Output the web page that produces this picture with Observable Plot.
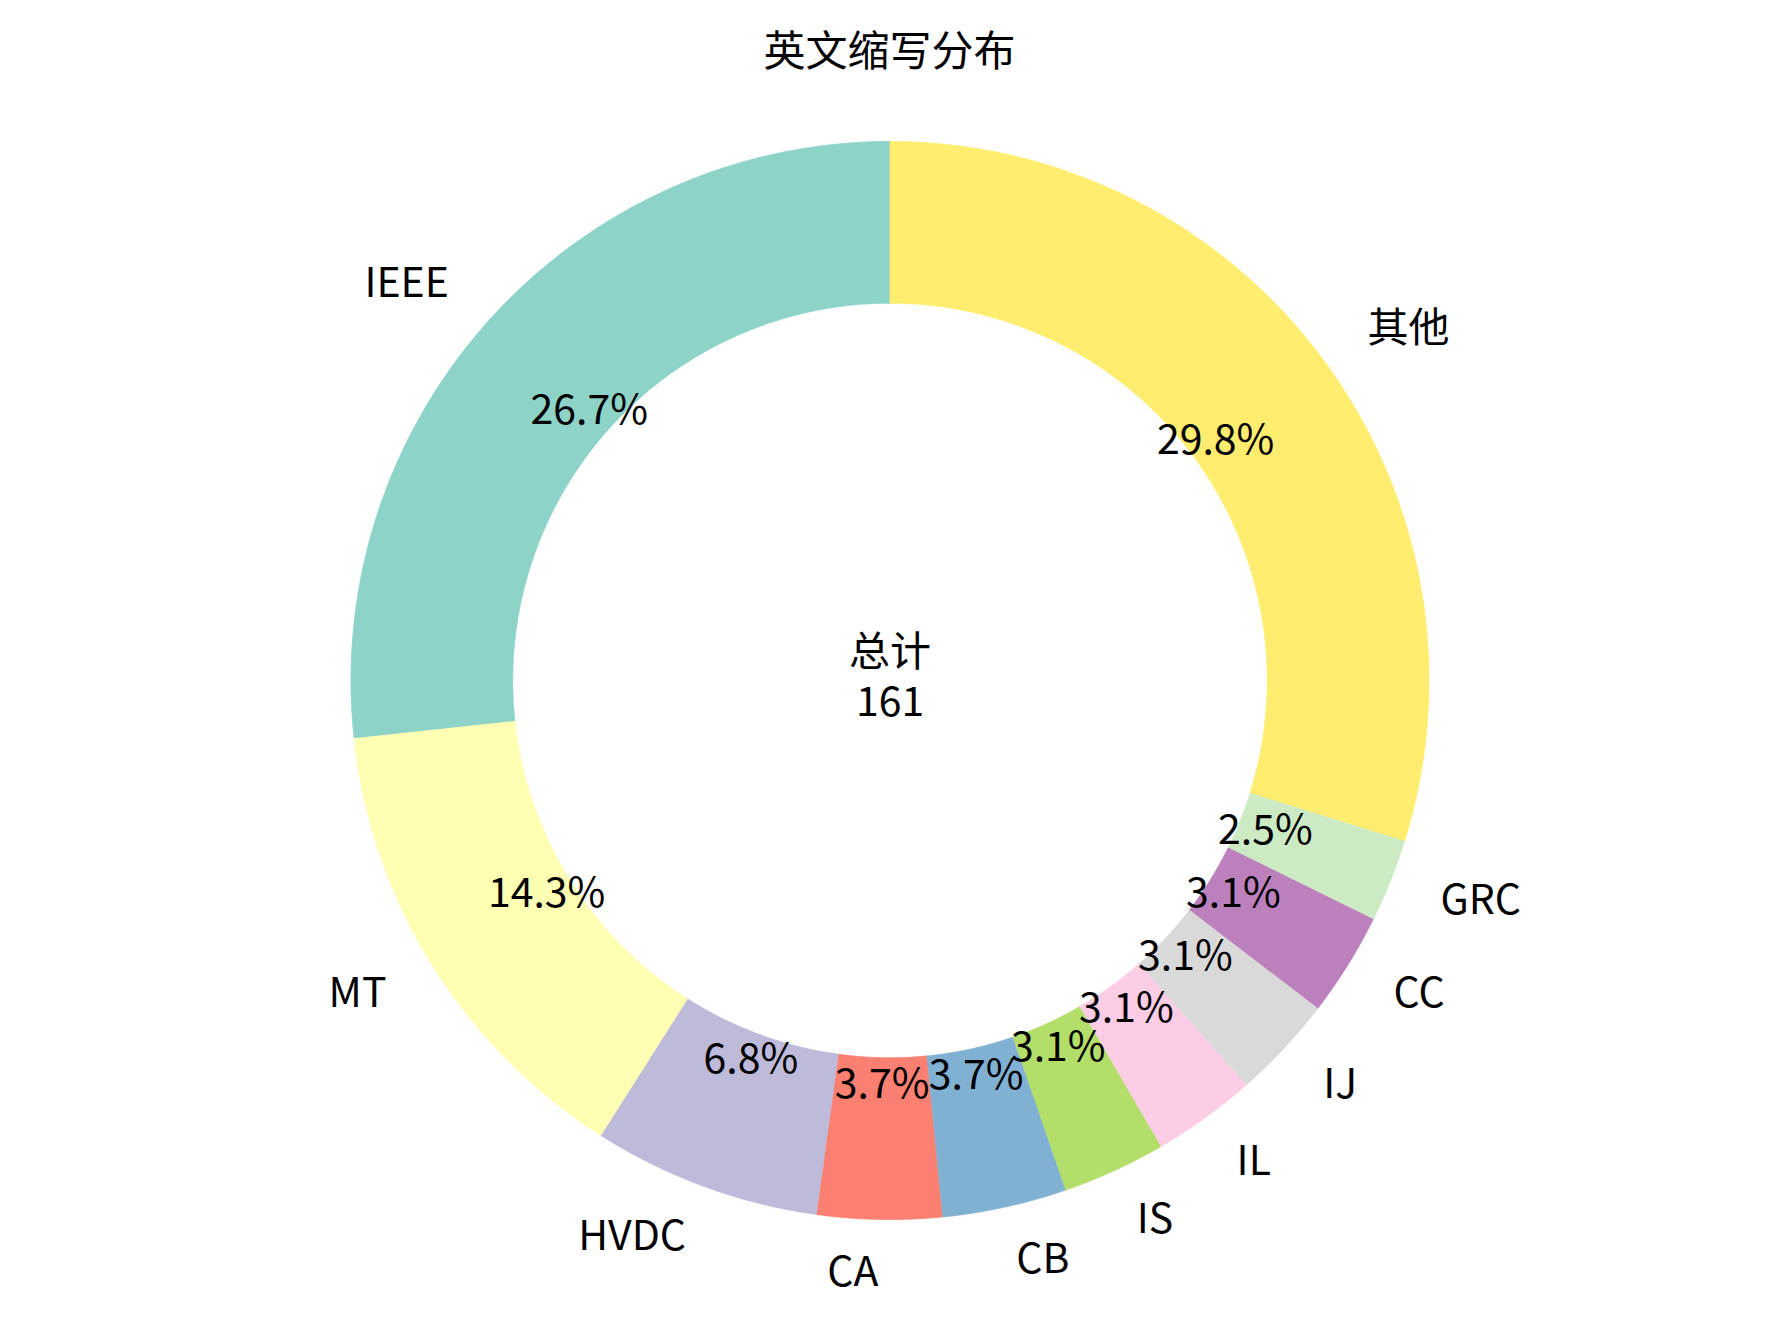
<!DOCTYPE html>
<html>
<head>
<meta charset="utf-8">
<script src="https://cdn.jsdelivr.net/npm/d3@7"></script>
<script src="https://cdn.jsdelivr.net/npm/@observablehq/plot@0.6"></script>
<style>
  html, body { margin: 0; padding: 0; background: #fff; }
  #wrap { width: 1779px; height: 1323px; position: relative; font-family: "Noto Sans CJK SC", "Noto Sans", sans-serif; }
  #title { position: absolute; left: 0; top: 0; width: 1779px; height: 96px; line-height: 96px; text-align: center; font-size: 42px; color: #000; }
  #chart { position: absolute; left: 0; top: 96px; }
</style>
</head>
<body>
<div id="wrap">
  <div id="title">英文缩写分布</div>
  <div id="chart"></div>
</div>
<script>
// ---- data ----
const labels = ["IEEE", "MT", "HVDC", "CA", "CB", "IS", "IL", "IJ", "CC", "GRC", "其他"];
const counts = [43, 23, 11, 6, 6, 5, 5, 5, 5, 4, 48];
const colors = ["#8dd3c7", "#ffffb3", "#bebada", "#fb8072", "#80b1d3", "#b3de69", "#fccde5", "#d9d9d9", "#bc80bd", "#ccebc5", "#ffed6f"];
const centerTitle = "总计";

// ---- layout ----
const W = 1779, H = 1227;
const R = 539;          // outer radius in px
const cx = 889.5, cy = 584;
const inner = 0.7, pctDist = 0.75, labelDist = 1.1;
const FS = 41;

const total = d3.sum(counts);
let cum = 0;
const slices = labels.map((name, i) => {
  const a0 = 90 + cum / total * 360;
  cum += counts[i];
  const a1 = 90 + cum / total * 360;
  return {name, value: counts[i], a0, a1, mid: (a0 + a1) / 2};
});
const rad = a => a * Math.PI / 180;

const poly = [];
for (const s of slices) {
  const n = Math.max(4, Math.ceil((s.a1 - s.a0) / 0.5));
  for (let k = 0; k <= n; k++) {
    const a = rad(s.a0 + (s.a1 - s.a0) * k / n);
    poly.push({name: s.name, x: Math.cos(a), y: Math.sin(a)});
  }
  for (let k = n; k >= 0; k--) {
    const a = rad(s.a0 + (s.a1 - s.a0) * k / n);
    poly.push({name: s.name, x: inner * Math.cos(a), y: inner * Math.sin(a)});
  }
}

const pcts = slices.map(s => ({
  text: (s.value / total * 100).toFixed(1) + "%",
  x: pctDist * Math.cos(rad(s.mid)),
  y: pctDist * Math.sin(rad(s.mid))
}));
const labs = slices.map(s => ({
  text: s.name,
  x: labelDist * Math.cos(rad(s.mid)),
  y: labelDist * Math.sin(rad(s.mid))
}));

const chart = Plot.plot({
  width: W,
  height: H,
  margin: 0,
  x: {domain: [-cx / R, (W - cx) / R], axis: null},
  y: {domain: [-(H - cy) / R, cy / R], axis: null},
  color: {domain: labels, range: colors},
  style: {fontFamily: '"Noto Sans CJK SC", "Noto Sans", sans-serif', background: "#fff", overflow: "visible"},
  marks: [
    Plot.line(poly, {x: "x", y: "y", z: "name", fill: "name", stroke: "name", strokeWidth: 0.8, curve: "linear"}),
    Plot.text(pcts, {x: "x", y: "y", text: "text", fontSize: FS, fill: "#000", textAnchor: "middle"}),
    Plot.text(labs.filter(d => d.x < 0), {x: "x", y: "y", text: "text", fontSize: FS, fill: "#000", textAnchor: "end"}),
    Plot.text(labs.filter(d => d.x >= 0), {x: "x", y: "y", text: "text", fontSize: FS, fill: "#000", textAnchor: "start"}),
    Plot.text([{x: 0, y: 0, text: centerTitle}], {x: "x", y: "y", text: "text", fontSize: FS, fill: "#000", textAnchor: "middle", dy: -28}),
    Plot.text([{x: 0, y: 0, text: String(total)}], {x: "x", y: "y", text: "text", fontSize: FS, fill: "#000", textAnchor: "middle", dy: 22})
  ]
});
document.getElementById("chart").appendChild(chart);
</script>
</body>
</html>
